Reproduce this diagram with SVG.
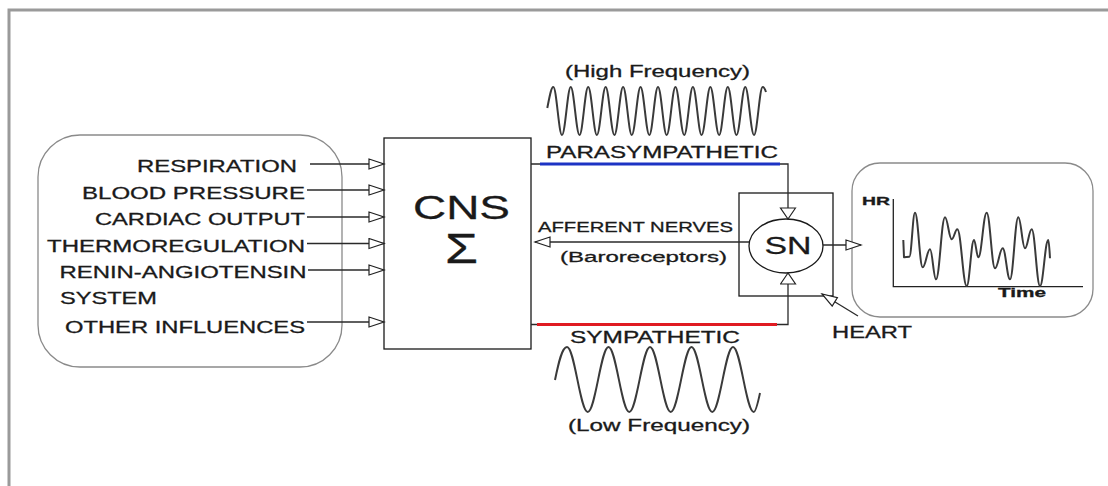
<svg xmlns="http://www.w3.org/2000/svg" width="1108" height="486" viewBox="0 0 1108 486">
<defs>
<style>
.t{font-family:"Liberation Sans",Arial,sans-serif;fill:#1a1a1a;stroke:#1a1a1a;stroke-width:0.3}
.b{font-weight:bold}
.ln{fill:none;stroke:#2a2a2a;stroke-width:1.3}
.wave{fill:none;stroke:#3a3a3a;stroke-width:2;stroke-linejoin:round}
.box{fill:#fff;stroke:#1a1a1a;stroke-width:1.3}
.rbox{fill:#fff;stroke:#8a8a8a;stroke-width:1.3}
</style>
<marker id="ah" markerUnits="userSpaceOnUse" markerWidth="18" markerHeight="14" refX="16" refY="6" orient="auto">
<path d="M1,1 L16,6 L1,11 Z" fill="#fff" stroke="#222" stroke-width="1.2"/>
</marker>
<marker id="av" markerUnits="userSpaceOnUse" markerWidth="14" markerHeight="18" refX="12" refY="8.5" orient="auto">
<path d="M1,1 L12,8.5 L1,16 Z" fill="#fff" stroke="#222" stroke-width="1.2"/>
</marker>
</defs>
<rect width="1108" height="486" fill="#fff"/>
<path d="M9,490 L9,10 L1110,10" fill="none" stroke="#9a9a9a" stroke-width="3"/>

<g id="inputs">
<rect class="rbox" x="38" y="135" width="304" height="232" rx="42"/>
<text class="t" font-size="17" x="297" y="172" text-anchor="end" textLength="160" lengthAdjust="spacingAndGlyphs">RESPIRATION</text>
<text class="t" font-size="17" x="305" y="198.5" text-anchor="end" textLength="223" lengthAdjust="spacingAndGlyphs">BLOOD PRESSURE</text>
<text class="t" font-size="17" x="305" y="225" text-anchor="end" textLength="210" lengthAdjust="spacingAndGlyphs">CARDIAC OUTPUT</text>
<text class="t" font-size="17" x="305" y="251.5" text-anchor="end" textLength="258" lengthAdjust="spacingAndGlyphs">THERMOREGULATION</text>
<text class="t" font-size="17" x="306.5" y="278" text-anchor="end" textLength="247" lengthAdjust="spacingAndGlyphs">RENIN-ANGIOTENSIN</text>
<text class="t" font-size="17" x="60" y="303.5" textLength="97" lengthAdjust="spacingAndGlyphs">SYSTEM</text>
<text class="t" font-size="17" x="305" y="333" text-anchor="end" textLength="240" lengthAdjust="spacingAndGlyphs">OTHER INFLUENCES</text>
</g>

<g id="cns">
<rect class="box" x="384" y="138" width="147" height="211"/>
<text class="t" font-size="34" x="461.5" y="219" text-anchor="middle" textLength="97" lengthAdjust="spacingAndGlyphs">CNS</text>
<text class="t" font-size="43" x="461.5" y="263" text-anchor="middle" textLength="33" lengthAdjust="spacingAndGlyphs" stroke-width="0">Σ</text>
</g>

<g id="sn">
<rect class="box" x="739" y="193" width="94" height="103" fill="none"/>
<ellipse cx="786" cy="246" rx="37" ry="27" fill="#fff" stroke="#1a1a1a" stroke-width="1.3"/>
<text class="t" font-size="24" x="788" y="254" text-anchor="middle" textLength="47" lengthAdjust="spacingAndGlyphs">SN</text>
</g>

<g id="hr">
<rect class="rbox" x="852" y="163" width="241" height="154" rx="28"/>
<path d="M893.3,199 L893.3,286.7 L1083,286.7" fill="none" stroke="#222" stroke-width="1.3"/>
<text class="t b" font-size="11.5" x="862" y="205" textLength="28" lengthAdjust="spacingAndGlyphs">HR</text>
<text class="t b" font-size="12.5" x="998" y="297" textLength="48" lengthAdjust="spacingAndGlyphs">Time</text>
<path class="wave" stroke="#555" d="M903.3,240 L904,257.3 L909.3,256.7
C911.6,256.7 912.7,212.7 915,212.7
C918.1,212.7 919.6,267.3 922.7,267.3
C925.6,267.3 927.1,249.3 930,249.3
C932.4,249.3 933.6,279.3 936,279.3
C939.6,279.3 941.4,217.3 945,217.3
C947.7,217.3 949,239.3 951.7,239.3
C953.9,239.3 955.1,229.3 957.3,229.3
C961.1,229.3 962.9,286 966.7,286
C969.6,286 971.1,240 974,240
C975.7,240 976.6,257.3 978.3,257.3
C981.7,257.3 983.3,212.7 986.7,212.7
C990,212.7 991.7,268.3 995,268.3
C998.1,268.3 999.6,248.3 1002.7,248.3
C1005.6,248.3 1007.1,279.3 1010,279.3
C1013.3,279.3 1015,217.3 1018.3,217.3
C1021,217.3 1022.3,248.3 1025,248.3
C1027.7,248.3 1029,229.3 1031.7,229.3
C1035,229.3 1036.7,286 1040,286
C1043.3,286 1045,240 1048.3,240
C1049,240 1049.5,250 1050,258.3"/>
</g>

<g id="heart">
<text class="t" font-size="17" x="832" y="338" textLength="80" lengthAdjust="spacingAndGlyphs">HEART</text>
</g>

<g id="labels">
<text class="t" font-size="16.5" x="565" y="77" textLength="185" lengthAdjust="spacingAndGlyphs">(High Frequency)</text>
<text class="t" font-size="16.3" x="546" y="158" textLength="232" lengthAdjust="spacingAndGlyphs">PARASYMPATHETIC</text>
<text class="t" font-size="15" x="538" y="232" textLength="195" lengthAdjust="spacingAndGlyphs">AFFERENT NERVES</text>
<text class="t" font-size="15.5" x="560" y="262" textLength="167" lengthAdjust="spacingAndGlyphs">(Baroreceptors)</text>
<text class="t" font-size="16" x="570" y="343" textLength="170" lengthAdjust="spacingAndGlyphs">SYMPATHETIC</text>
<text class="t" font-size="17" x="568" y="431" textLength="182" lengthAdjust="spacingAndGlyphs">(Low Frequency)</text>
</g>

<g id="waves">
<path class="wave" d="M547.3,108 C549.5,97 551.2,87 553.3,87
C556.5,87 558.8,135 562,135 C565.2,135 567.6,87 570.75,87
C573.9,87 576.3,135 579.5,135 C582.7,135 585,87 588.2,87
C591.4,87 593.7,135 596.9,135 C600.1,135 602.5,87 605.65,87
C608.8,87 611.2,135 614.4,135 C617.6,135 619.9,87 623.1,87
C626.3,87 628.6,135 631.8,135 C635,135 637.4,87 640.55,87
C643.7,87 646.1,135 649.3,135 C652.5,135 654.8,87 658,87
C661.2,87 663.5,135 666.7,135 C669.9,135 672.3,87 675.45,87
C678.6,87 681,135 684.2,135 C687.4,135 689.7,87 692.9,87
C696.1,87 698.4,135 701.6,135 C704.8,135 707.2,87 710.35,87
C713.5,87 715.9,135 719.1,135 C722.3,135 724.6,87 727.8,87
C731,87 733.3,135 736.5,135 C739.7,135 742.1,87 745.25,87
C748.4,87 750.8,135 754,135 C757.2,135 759.5,87 762.7,87
C764,87 765,89 766,92"/>
<path class="wave" d="M555,380 C558.5,363 562,347 567,347
C574.5,347 580.2,412 587.75,412 C595.3,412 601,347 608.5,347
C616,347 621.7,412 629.25,412 C636.8,412 642.5,347 650,347
C657.5,347 663.2,412 670.75,412 C678.3,412 684,347 691.5,347
C699,347 704.7,412 712.25,412 C719.8,412 725.5,347 733,347
C740.5,347 746.2,412 753.75,412 C756,412 758.5,400 760,393"/>
</g>

<g id="connectors">
<line class="ln" x1="310" y1="164" x2="384" y2="164" marker-end="url(#ah)"/>
<line class="ln" x1="307" y1="190" x2="384" y2="190" marker-end="url(#ah)"/>
<line class="ln" x1="307" y1="217" x2="384" y2="217" marker-end="url(#ah)"/>
<line class="ln" x1="307" y1="243.5" x2="384" y2="243.5" marker-end="url(#ah)"/>
<line class="ln" x1="308" y1="270" x2="384" y2="270" marker-end="url(#ah)"/>
<line class="ln" x1="307" y1="322" x2="384" y2="322" marker-end="url(#ah)"/>
<polyline class="ln" points="531,164 788,164 788,219" marker-end="url(#av)"/>
<line x1="540" y1="164" x2="780" y2="164" stroke="#1c33c4" stroke-width="3.2"/>
<polyline class="ln" points="531,324.5 788,324.5 788,273" marker-end="url(#av)"/>
<line x1="537" y1="324.5" x2="777" y2="324.5" stroke="#e01b22" stroke-width="3.2"/>
<line class="ln" x1="749" y1="242" x2="535" y2="242" marker-end="url(#ah)"/>
<line class="ln" x1="823" y1="245" x2="861" y2="245" marker-end="url(#ah)"/>
<line class="ln" x1="858" y1="316" x2="822" y2="294" marker-end="url(#ah)"/>
</g>
</svg>
